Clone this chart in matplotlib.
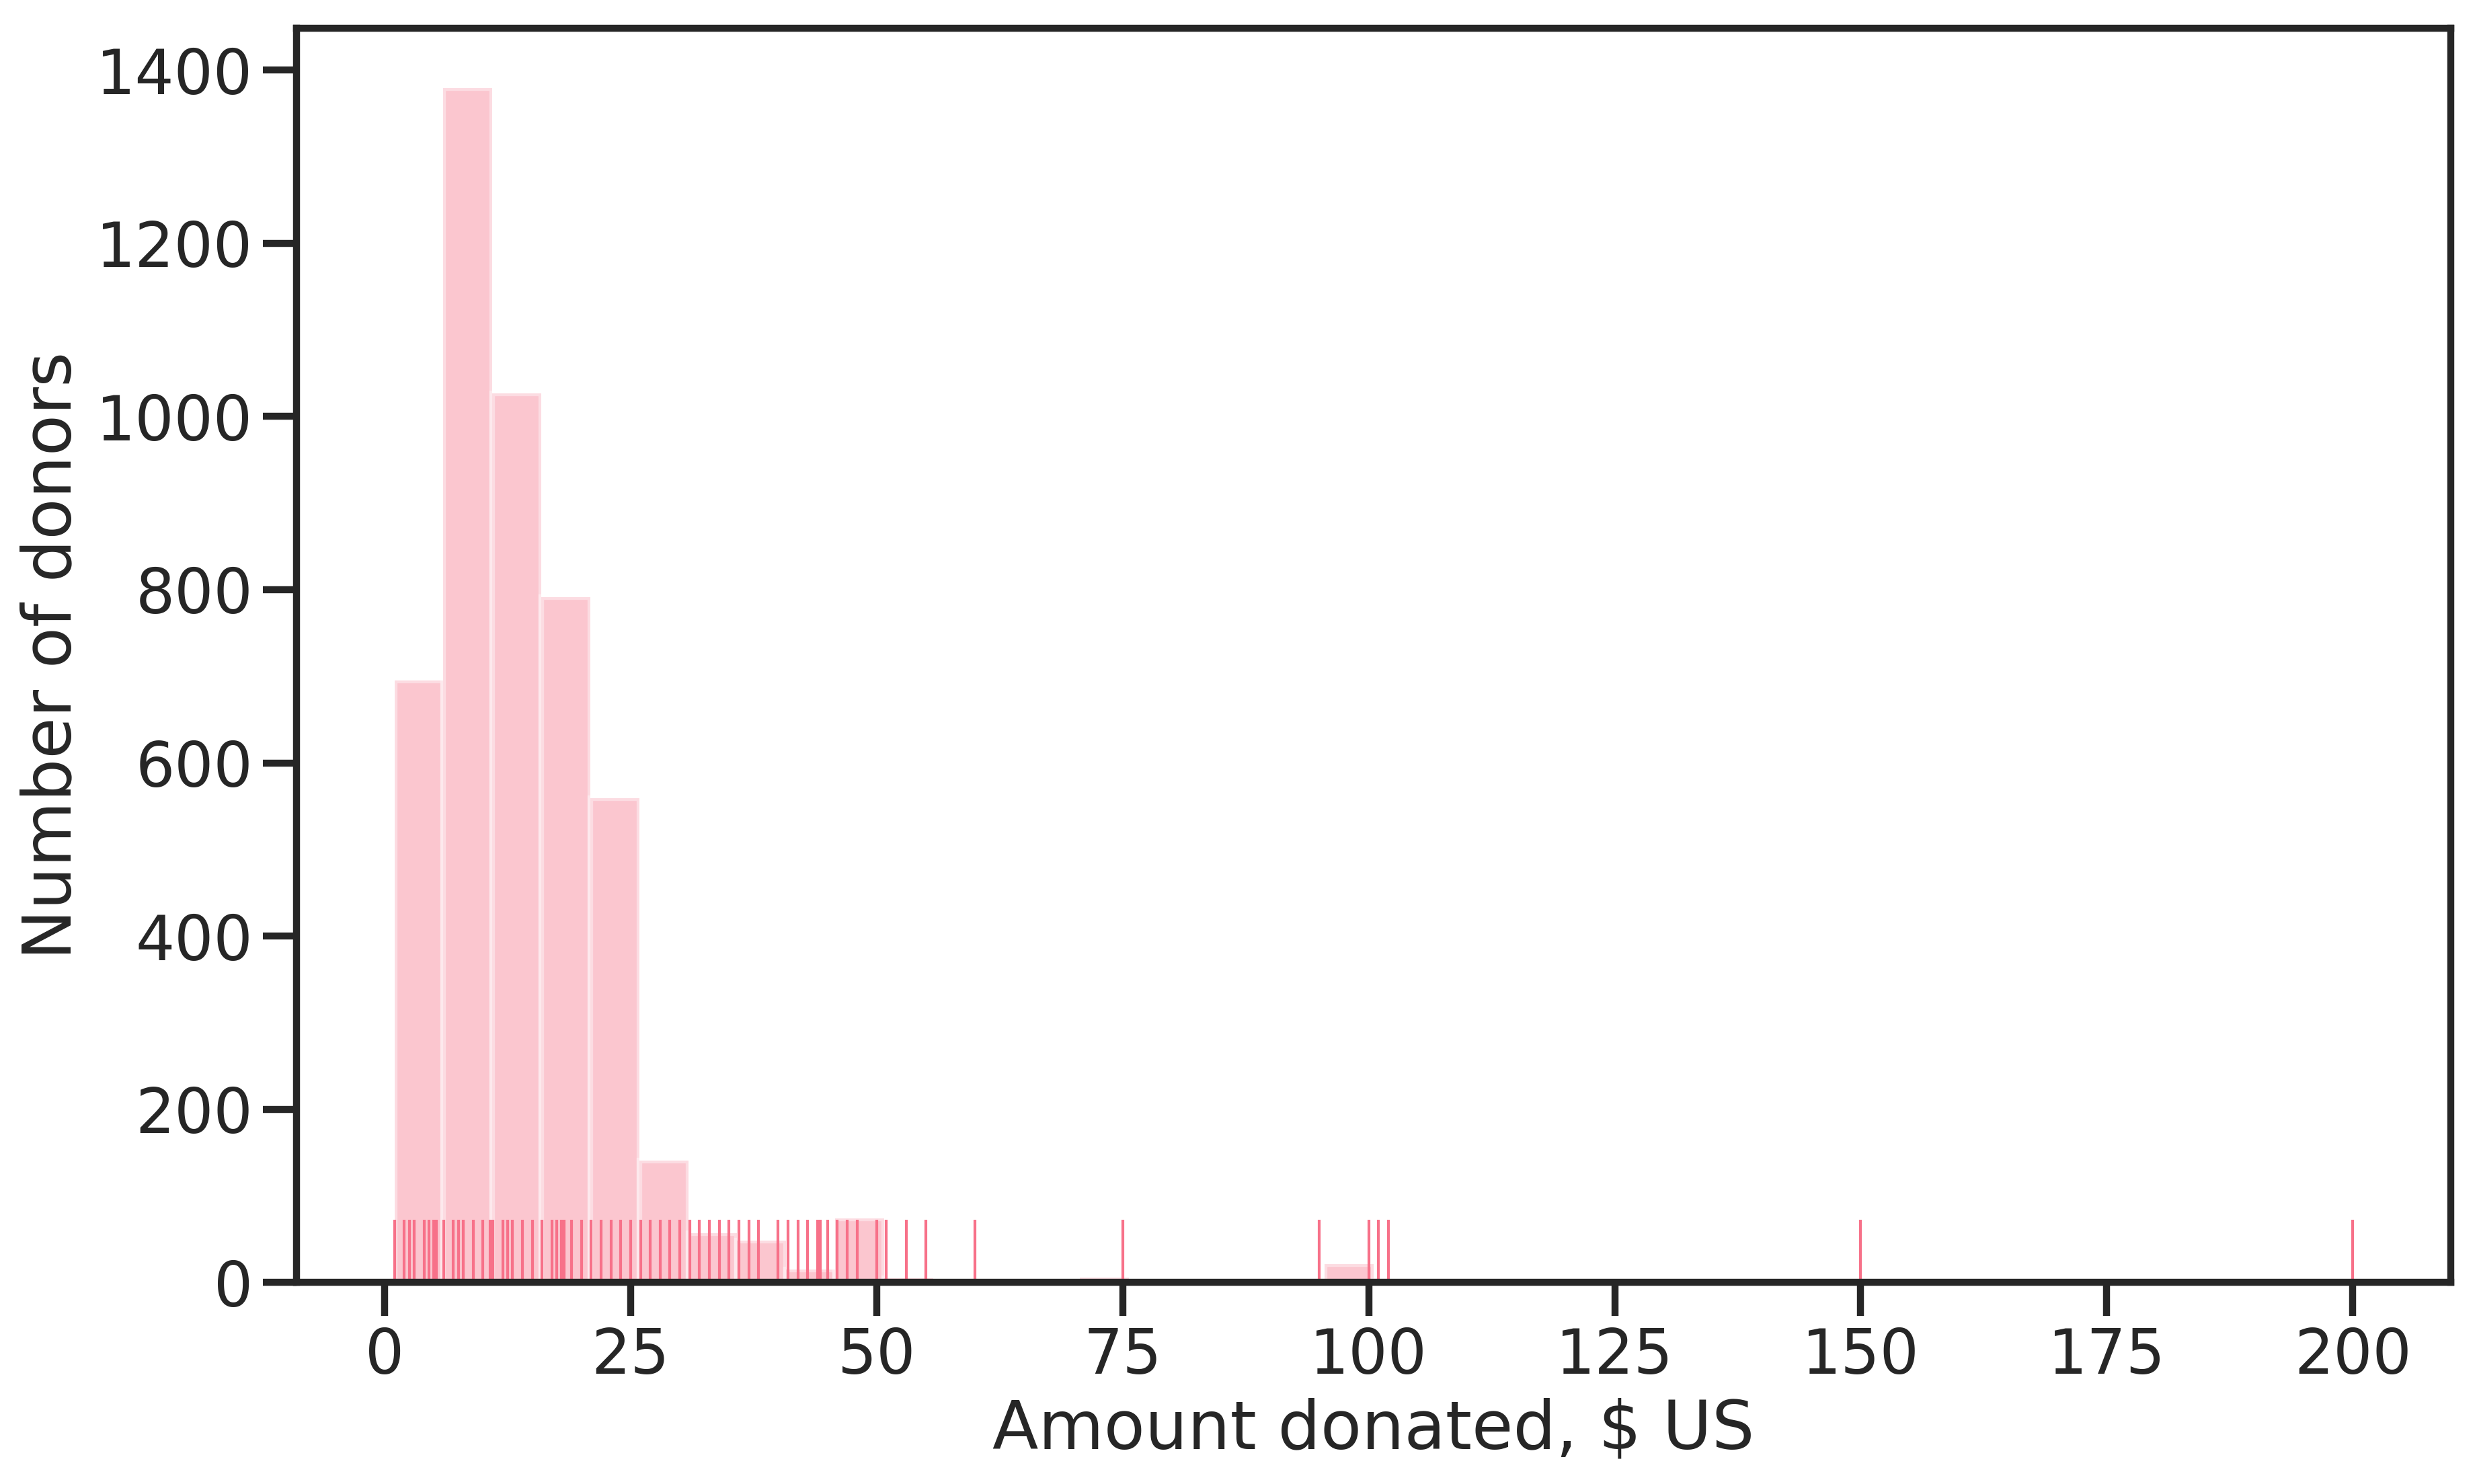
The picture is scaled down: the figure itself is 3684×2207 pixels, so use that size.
import numpy as np
import matplotlib
matplotlib.use('Agg')
import matplotlib.pyplot as plt
import seaborn as sns

# Histogram of donations: 40 equal bins from $1 to $200
bin_start = 1.0
bin_stop = 200.0
bin_counts = [695, 1379, 1027, 791, 559, 141, 57, 48, 15, 74,
              5, 1, 0, 0, 6, 0, 0, 0, 1, 21,
              2, 0, 0, 0, 0, 0, 0, 0, 0, 1,
              0, 0, 0, 0, 0, 0, 0, 0, 0, 1]

# Distinct donation amounts shown in the rug
rug_amounts = [1, 2, 2.5, 3, 4, 4.5, 5, 5.25, 6, 7, 7.5, 8, 9, 10, 10.75, 11,
               12, 12.5, 13, 14, 15, 16, 17, 17.5, 18, 18.25, 19, 20, 21, 22,
               23, 24, 25, 26, 27, 28, 29, 30, 31, 32, 33, 34, 35, 36, 37, 38,
               40, 41, 42, 43, 44, 44.25, 45, 46, 47, 48, 50, 51, 53, 55, 60,
               75, 95, 100, 101, 102, 150, 200]

pink = '#f77189'

sns.set_theme(context='poster', style='ticks')

fig = plt.figure(figsize=(12.28, 7.3567), dpi=300)
ax = fig.add_axes([0.1197, 0.1358, 0.9894 - 0.1197, 0.9808 - 0.1358])

edges = np.linspace(bin_start, bin_stop, len(bin_counts) + 1)
ax.hist(edges[:-1], bins=edges, weights=bin_counts, color=pink, alpha=0.4)
sns.rugplot(x=rug_amounts, height=0.05, color=pink, linewidth=1, ax=ax)

# same limits as the default autoscale of the histogram alone
ax.set_ylim(0, max(bin_counts) * 1.05)
ax.set_xlim(bin_start - 0.05 * (bin_stop - bin_start),
            bin_stop + 0.05 * (bin_stop - bin_start))

ax.set_xlabel('Amount donated, $ US')
ax.set_ylabel('Number of donors')
ax.set_xticks([0, 25, 50, 75, 100, 125, 150, 175, 200])

fig.savefig('out.png', dpi=300)
